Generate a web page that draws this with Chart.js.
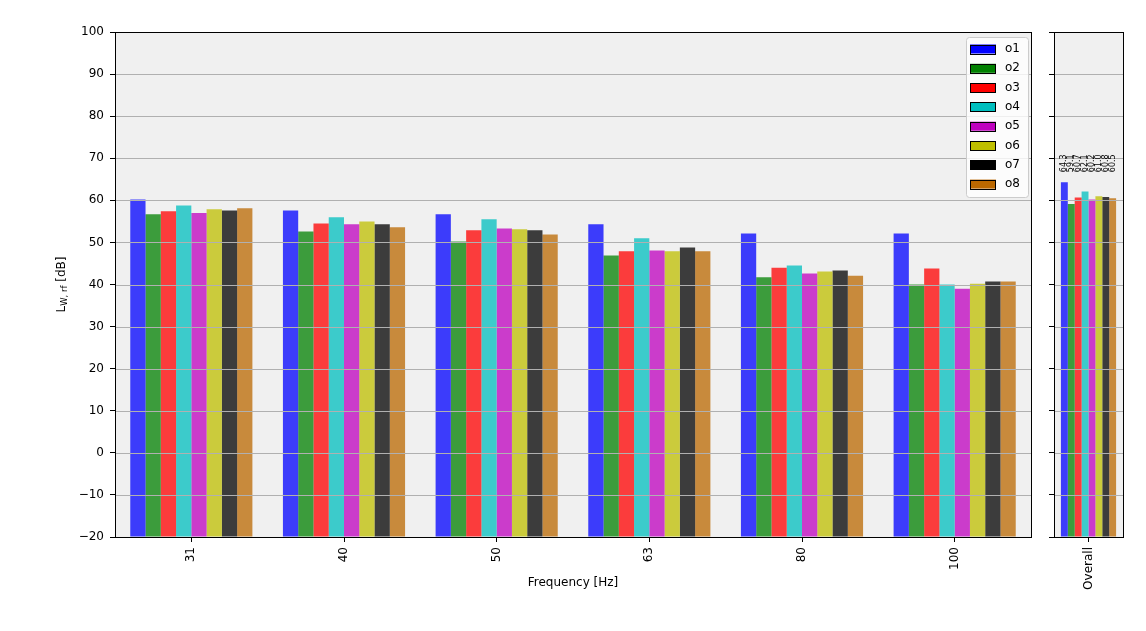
<!DOCTYPE html>
<html>
<head>
<meta charset="utf-8">
<script src="https://cdn.jsdelivr.net/npm/chart.js@4.4.1/dist/chart.umd.min.js"></script>
<style>
html, body { margin: 0; padding: 0; background: #fff; }
#wrap { position: relative; width: 1146px; height: 631px; }
canvas { position: absolute; top: 0; }
</style>
</head>
<body>
<div id="wrap">
  <canvas id="bandChart" width="1040" height="631" style="left:0"></canvas>
  <canvas id="totalChart" width="106" height="631" style="left:1040px"></canvas>
</div>
<script>
// band levels, dB
const FREQS = ['31', '40', '50', '63', '80', '100'];
const SERIES = ['o1', 'o2', 'o3', 'o4', 'o5', 'o6', 'o7', 'o8'];
const o1 = [60.2, 57.6, 56.7, 54.3, 52.1, 52.1];
const o2 = [56.7, 52.6, 50.2, 46.9, 41.7, 40.0];
const o3 = [57.4, 54.5, 52.9, 47.9, 44.0, 43.8];
const o4 = [58.8, 56.0, 55.5, 51.0, 44.5, 40.0];
const o5 = [57.0, 54.3, 53.3, 48.1, 42.6, 39.0];
const o6 = [57.9, 55.0, 53.1, 47.9, 43.1, 40.2];
const o7 = [57.6, 54.3, 52.9, 48.8, 43.3, 40.7];
const o8 = [58.1, 53.6, 51.9, 47.9, 42.1, 40.7];
const BANDS = [o1, o2, o3, o4, o5, o6, o7, o8];
const OVERALL = [64.3, 59.1, 60.7, 62.1, 60.2, 61.0, 60.8, 60.5];
const Y_MIN = -20, Y_MAX = 100, Y_STEP = 10;

const COLORS = ['#0000ff', '#008000', '#ff0000', '#00bfbf', '#bf00bf', '#bfbf00', '#000000', '#bb6800'];
const BAR_ALPHA = 0.75;
const FONT = "'DejaVu Sans', sans-serif";

const $ = (id) => document.getElementById(id);

Chart.defaults.font.family = FONT;
Chart.defaults.font.size = 12;
Chart.defaults.color = '#000';

function withAlpha(hex, a) {
    const n = parseInt(hex.slice(1), 16);
    return `rgba(${(n >> 16) & 255},${(n >> 8) & 255},${n & 255},${a})`;
}

// grey face, grid on top of the bars, black frame
const panelPlugin = {
    id: 'panel',
    beforeDatasetsDraw(chart) {
        const { ctx, chartArea: a } = chart;
        ctx.save();
        ctx.fillStyle = '#f0f0f0';
        ctx.fillRect(a.left, a.top, a.right - a.left, a.bottom - a.top);
        ctx.restore();
    },
    afterDatasetsDraw(chart) {
        const { ctx, chartArea: a } = chart;
        const ys = chart.scales.y;
        ctx.save();
        ctx.strokeStyle = '#b0b0b0';
        ctx.lineWidth = 1;
        ys.ticks.forEach(t => {
            const y = Math.round(ys.getPixelForValue(t.value)) + 0.5;
            ctx.beginPath();
            ctx.moveTo(a.left, y);
            ctx.lineTo(a.right, y);
            ctx.stroke();
        });
        ctx.strokeStyle = '#000';
        ctx.strokeRect(Math.round(a.left) + 0.5, Math.round(a.top) + 0.5,
            Math.round(a.right - a.left), Math.round(a.bottom - a.top));
        ctx.restore();
    }
};

const legendPlugin = {
    id: 'boxLegend',
    afterDraw(chart) {
        const { ctx, chartArea: a } = chart;
        const boxW = 62, boxH = 160, rowH = 19.3;
        const x0 = a.right - 3 - boxW, y0 = a.top + 5;
        ctx.save();
        ctx.fillStyle = 'rgba(255,255,255,0.8)';
        ctx.strokeStyle = '#cccccc';
        ctx.lineWidth = 1;
        ctx.beginPath();
        ctx.roundRect(x0 + 0.5, y0 + 0.5, boxW, boxH, 3);
        ctx.fill();
        ctx.stroke();
        ctx.font = `12px ${FONT}`;
        ctx.textBaseline = 'middle';
        chart.data.datasets.forEach((ds, i) => {
            const cy = y0 + 12 + i * rowH;
            ctx.fillStyle = COLORS[i];
            ctx.fillRect(x0 + 4, cy - 4.5, 26, 9);
            ctx.strokeStyle = '#000';
            ctx.strokeRect(x0 + 4.5, Math.round(cy - 4.5) + 0.5, 25, 9);
            ctx.fillStyle = '#000';
            ctx.fillText(ds.label, x0 + 39, cy);
        });
        ctx.restore();
    }
};

const yTitlePlugin = {
    id: 'yTitle',
    afterDraw(chart) {
        const { ctx, chartArea: a } = chart;
        const parts = [['L', 12, 0], ['W, rf', 8.5, 3], [' [dB]', 12, 0]];
        ctx.save();
        ctx.translate(chart.scales.y.left + 11, (a.top + a.bottom) / 2);
        ctx.rotate(-Math.PI / 2);
        ctx.textBaseline = 'middle';
        ctx.fillStyle = '#000';
        let w = 0;
        parts.forEach(p => { ctx.font = `${p[1]}px ${FONT}`; w += ctx.measureText(p[0]).width; });
        let x = -w / 2;
        parts.forEach(p => {
            ctx.font = `${p[1]}px ${FONT}`;
            ctx.fillText(p[0], x, p[2]);
            x += ctx.measureText(p[0]).width;
        });
        ctx.restore();
    }
};

const LABEL_AT = 66.7;
const valueLabelPlugin = {
    id: 'valueLabels',
    afterDatasetsDraw(chart) {
        const { ctx } = chart;
        const y = chart.scales.y.getPixelForValue(LABEL_AT);
        ctx.save();
        ctx.font = `8px ${FONT}`;
        ctx.fillStyle = '#000';
        ctx.textAlign = 'left';
        ctx.textBaseline = 'middle';
        chart.data.datasets.forEach((ds, i) => {
            const bar = chart.getDatasetMeta(i).data[0];
            ctx.save();
            ctx.translate(bar.x, y);
            ctx.rotate(-Math.PI / 2);
            ctx.fillText(ds.data[0].toFixed(1), 0, 0);
            ctx.restore();
        });
        ctx.restore();
    }
};

function yScale(showLabels, width) {
    return {
        min: Y_MIN, max: Y_MAX,
        ticks: {
            display: showLabels, stepSize: Y_STEP, padding: 6, font: { size: 12 },
            callback: v => String(v).replace('-', '\u2212')
        },
        grid: { drawOnChartArea: false, drawTicks: true, tickLength: 5, tickColor: '#000' },
        border: { display: false },
        afterFit: s => { s.width = width; }
    };
}

function xScale(title) {
    return {
        ticks: { minRotation: 90, maxRotation: 90, autoSkip: false, padding: 5, font: { size: 12 } },
        grid: { offset: false, drawOnChartArea: false, drawTicks: true, tickLength: 5, tickColor: '#000' },
        border: { display: false },
        title: { display: !!title, text: title, font: { size: 12 } },
        afterFit: s => { s.height = 57; }
    };
}

const common = {
    responsive: false,
    animation: false,
    events: [],
    plugins: { legend: { display: false }, tooltip: { enabled: false } }
};

function barSet(name, i, data) {
    return {
        label: name, data: data, base: Y_MIN,
        backgroundColor: withAlpha(COLORS[i], BAR_ALPHA), borderWidth: 0,
        categoryPercentage: 0.8, barPercentage: 1.0
    };
}

new Chart($('bandChart'), {
    type: 'bar',
    data: { labels: FREQS, datasets: SERIES.map((name, i) => barSet(name, i, BANDS[i])) },
    options: {
        ...common,
        layout: { padding: { left: 51, top: 32, right: 9, bottom: 37 } },
        scales: { x: xScale('Frequency [Hz]'), y: yScale(true, 64) }
    },
    plugins: [panelPlugin, legendPlugin, yTitlePlugin]
});

new Chart($('totalChart'), {
    type: 'bar',
    data: { labels: ['Overall'], datasets: SERIES.map((name, i) => barSet(name, i, [OVERALL[i]])) },
    options: {
        ...common,
        layout: { padding: { left: 0, top: 32, right: 23, bottom: 37 } },
        scales: { x: xScale(''), y: yScale(false, 14) }
    },
    plugins: [panelPlugin, valueLabelPlugin]
});
</script>
</body>
</html>
